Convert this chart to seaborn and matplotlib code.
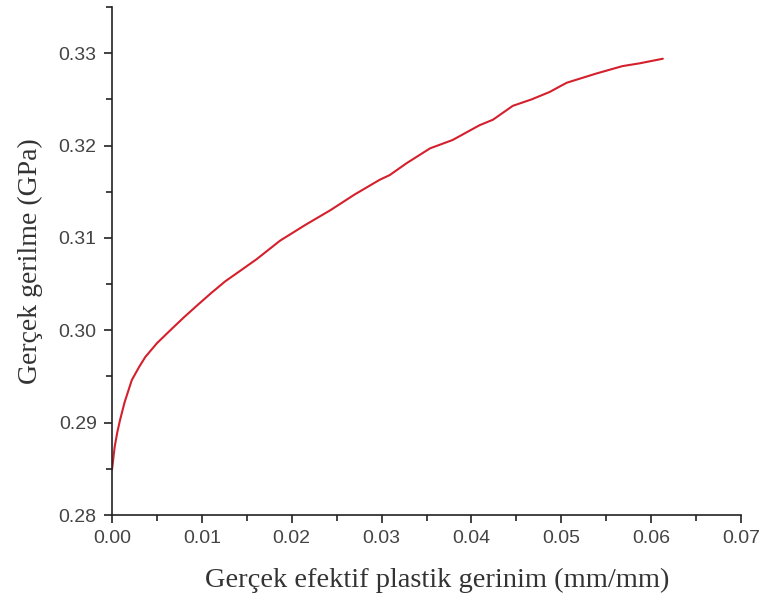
import matplotlib
matplotlib.use("Agg")
import matplotlib.pyplot as plt
from matplotlib.ticker import MultipleLocator, FormatStrFormatter
import seaborn as sns
import pandas as pd

strain = [0.0, 0.0003, 0.0006, 0.0009, 0.0014, 0.0022, 0.0030, 0.0037, 0.0050, 0.0067,
          0.0080, 0.0096, 0.0110, 0.0126, 0.0145, 0.0161, 0.0187, 0.0215, 0.0243, 0.0270,
          0.0298, 0.0309, 0.0328, 0.0354, 0.0379, 0.0409, 0.0424, 0.0446, 0.0467, 0.0487,
          0.0506, 0.0539, 0.0568, 0.0587, 0.0613]
stress = [0.2849, 0.2874, 0.2890, 0.2903, 0.2922, 0.2946, 0.2960, 0.2971, 0.2986, 0.3002,
          0.3014, 0.3028, 0.3040, 0.3053, 0.3066, 0.3077, 0.3097, 0.3114, 0.3130, 0.3147,
          0.3163, 0.3168, 0.3181, 0.3197, 0.3206, 0.3222, 0.3228, 0.3243, 0.3250, 0.3258,
          0.3268, 0.3278, 0.3286, 0.3289, 0.3294]

df = pd.DataFrame({"strain": strain, "stress": stress})

sns.set_style("ticks")
fig = plt.figure(figsize=(7.66, 5.99), dpi=100)
ax = fig.add_axes([0.1462, 0.1402, 0.8212, 0.8481])
sns.lineplot(data=df, x="strain", y="stress", ax=ax, color="#d4202c", linewidth=1.5)

ax.set_xlim(0, 0.07)
ax.set_ylim(0.28, 0.335)
ax.xaxis.set_major_locator(MultipleLocator(0.01))
ax.xaxis.set_minor_locator(MultipleLocator(0.005))
ax.yaxis.set_major_locator(MultipleLocator(0.01))
ax.yaxis.set_minor_locator(MultipleLocator(0.005))
ax.xaxis.set_major_formatter(FormatStrFormatter("%.2f"))
ax.yaxis.set_major_formatter(FormatStrFormatter("%.2f"))
for s in ["top", "right"]:
    ax.spines[s].set_visible(False)
for s in ["left", "bottom"]:
    ax.spines[s].set_linewidth(1.2)
    ax.spines[s].set_color("#222222")
ax.tick_params(which="major", length=6, width=1.2, direction="out", colors="#222222",
               labelsize=14, labelcolor="#444444", pad=5)
ax.tick_params(which="minor", length=4, width=1.2, direction="out", colors="#222222")
for lab in ax.get_xticklabels() + ax.get_yticklabels():
    lab.set_family("Liberation Sans")

ax.set_xlabel("Gerçek efektif plastik gerinim (mm/mm)", family="Liberation Serif",
              fontsize=20.5, color="#333333")
ax.set_ylabel("Gerçek gerilme (GPa)", family="Liberation Serif",
              fontsize=20, color="#333333", labelpad=11)
ax.xaxis.set_label_coords(0.517, -0.103)

fig.savefig("out.png", dpi=100)
